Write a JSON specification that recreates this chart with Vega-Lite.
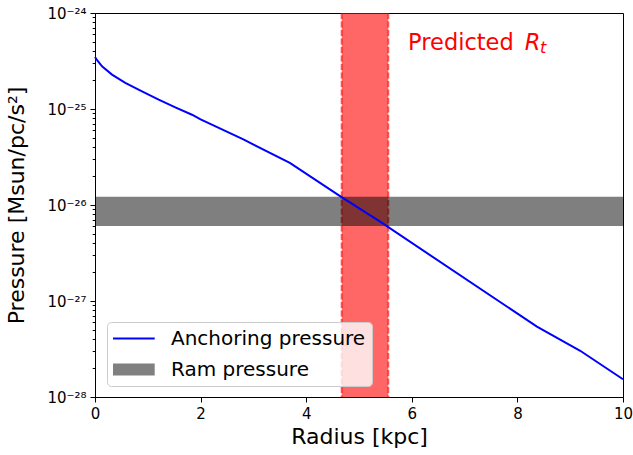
{
  "$schema": "https://vega.github.io/schema/vega-lite/v6.json",
  "width": 528,
  "height": 384,
  "autosize": {"type": "none"},
  "padding": {"left": 95, "top": 13, "right": 10, "bottom": 58},
  "config": {
    "font": "DejaVu Sans",
    "view": {"stroke": "#000000", "strokeWidth": 1},
    "axis": {
      "domainColor": "#000000", "tickColor": "#000000", "labelColor": "#000000",
      "titleColor": "#000000", "titleFontWeight": "normal", "grid": false,
      "labelFont": "DejaVu Sans", "titleFont": "DejaVu Sans", "labelFontSize": 15, "titleFontSize": 22
    },
    "legend": {"labelLimit": 400}
  },
  "datasets": {
    "profile": [
      {"r": 0.0, "p": 3.48e-25, "series": "Anchoring pressure"},
      {"r": 0.04, "p": 3.22e-25, "series": "Anchoring pressure"},
      {"r": 0.133, "p": 2.78e-25, "series": "Anchoring pressure"},
      {"r": 0.322, "p": 2.28e-25, "series": "Anchoring pressure"},
      {"r": 0.574, "p": 1.87e-25, "series": "Anchoring pressure"},
      {"r": 0.89, "p": 1.53e-25, "series": "Anchoring pressure"},
      {"r": 1.206, "p": 1.25e-25, "series": "Anchoring pressure"},
      {"r": 1.521, "p": 1.04e-25, "series": "Anchoring pressure"},
      {"r": 1.837, "p": 8.72e-26, "series": "Anchoring pressure"},
      {"r": 2.0, "p": 7.78e-26, "series": "Anchoring pressure"},
      {"r": 2.81, "p": 4.82e-26, "series": "Anchoring pressure"},
      {"r": 3.69, "p": 2.74e-26, "series": "Anchoring pressure"},
      {"r": 4.67, "p": 1.21e-26, "series": "Anchoring pressure"},
      {"r": 5.4, "p": 6.7e-27, "series": "Anchoring pressure"},
      {"r": 8.37, "p": 5.4e-28, "series": "Anchoring pressure"},
      {"r": 9.19, "p": 3.03e-28, "series": "Anchoring pressure"},
      {"r": 10.0, "p": 1.53e-28, "series": "Anchoring pressure"}
    ],
    "ram": [{"lo": 6.05e-27, "hi": 1.22e-26}],
    "band": [{"r1": 4.672, "r2": 5.555}],
    "edges": [{"r": 4.672}, {"r": 5.555}],
    "label1": [{"r": 5.93, "p": 4.12e-25, "t": "Predicted"}],
    "label2": [{"r": 8.14, "p": 4.12e-25, "t": "R"}],
    "label3": [{"r": 8.43, "p": 3.8e-25, "t": "t"}]
  },
  "layer": [
    {
      "data": {"name": "band"},
      "mark": {"type": "rect", "color": "#ff0000", "opacity": 0.6},
      "encoding": {
        "x": {"field": "r1", "type": "quantitative", "scale": {"domain": [0, 10], "nice": false, "zero": false},
          "axis": {"values": [0, 2, 4, 6, 8, 10], "labelFontSize": 15, "tickSize": 5, "labelPadding": 4,
            "title": "Radius [kpc]", "titleFontSize": 22, "titlePadding": 5, "labelFlush": false}},
        "x2": {"field": "r2"}
      }
    },
    {
      "data": {"name": "edges"},
      "mark": {"type": "rule", "color": "#ff0000", "opacity": 0.6, "strokeWidth": 2, "strokeDash": [6, 2.5]},
      "encoding": {"x": {"field": "r", "type": "quantitative"}}
    },
    {
      "data": {"name": "ram"},
      "mark": {"type": "rect", "color": "#000000", "opacity": 0.5},
      "encoding": {
        "y": {"field": "lo", "type": "quantitative",
          "scale": {"type": "log", "domain": [1e-28, 1e-24], "nice": false},
          "axis": {
            "values": [1e-28, 2e-28, 3e-28, 4e-28, 5e-28, 6e-28, 7e-28, 8e-28, 9e-28,
                       1e-27, 2e-27, 3e-27, 4e-27, 5e-27, 6e-27, 7e-27, 8e-27, 9e-27,
                       1e-26, 2e-26, 3e-26, 4e-26, 5e-26, 6e-26, 7e-26, 8e-26, 9e-26,
                       1e-25, 2e-25, 3e-25, 4e-25, 5e-25, 6e-25, 7e-25, 8e-25, 9e-25, 1e-24],
            "labelExpr": "abs(log(datum.value)/LN10 - round(log(datum.value)/LN10)) > 0.001 ? '' : round(log(datum.value)/LN10) == -24 ? '10⁻²⁴' : round(log(datum.value)/LN10) == -25 ? '10⁻²⁵' : round(log(datum.value)/LN10) == -26 ? '10⁻²⁶' : round(log(datum.value)/LN10) == -27 ? '10⁻²⁷' : '10⁻²⁸'",
            "tickSize": {"condition": {"test": "abs(log(datum.value)/LN10 - round(log(datum.value)/LN10)) < 0.001", "value": 5}, "value": 2.8},
            "labelFontSize": 15, "labelPadding": 4, "labelFlush": false, "labelOverlap": false,
            "title": "Pressure [Msun/pc/s²]", "titleFontSize": 22, "titlePadding": 18
          }},
        "y2": {"field": "hi"}
      }
    },
    {
      "data": {"name": "profile"},
      "mark": {"type": "line", "strokeWidth": 2},
      "encoding": {
        "x": {"field": "r", "type": "quantitative"},
        "y": {"field": "p", "type": "quantitative"},
        "color": {"field": "series", "type": "nominal",
          "scale": {"domain": ["Anchoring pressure", "Ram pressure"], "range": ["#0000ff", "#808080"]},
          "legend": {
            "title": null, "orient": "none", "legendX": 12, "legendY": 309,
            "labelFontSize": 20, "labelColor": "#000000", "labelOffset": 38, "labelLimit": 400,
            "symbolType": "M-2.06,0H6.34", "symbolSize": 100, "symbolStrokeWidth": 2, "symbolOpacity": 1,
            "clipHeight": 21, "rowPadding": 10, "padding": 6,
            "fillColor": "rgba(255,255,255,0.8)", "strokeColor": "#cccccc", "cornerRadius": 4,
            "encode": {"symbols": {"update": {
              "strokeWidth": {"signal": "datum.value === 'Ram pressure' ? 12 : 2"},
              "strokeCap": {"value": "butt"}
            }}}
          }}
      }
    },
    {
      "data": {"name": "label1"},
      "mark": {"type": "text", "align": "left", "baseline": "alphabetic", "fontSize": 22.5, "color": "#ff0000"},
      "encoding": {"x": {"field": "r", "type": "quantitative"}, "y": {"field": "p", "type": "quantitative"}, "text": {"field": "t"}}
    },
    {
      "data": {"name": "label2"},
      "mark": {"type": "text", "align": "left", "baseline": "alphabetic", "fontSize": 22.5, "fontStyle": "italic", "color": "#ff0000"},
      "encoding": {"x": {"field": "r", "type": "quantitative"}, "y": {"field": "p", "type": "quantitative"}, "text": {"field": "t"}}
    },
    {
      "data": {"name": "label3"},
      "mark": {"type": "text", "align": "left", "baseline": "alphabetic", "fontSize": 16, "fontStyle": "italic", "color": "#ff0000"},
      "encoding": {"x": {"field": "r", "type": "quantitative"}, "y": {"field": "p", "type": "quantitative"}, "text": {"field": "t"}}
    }
  ]
}
